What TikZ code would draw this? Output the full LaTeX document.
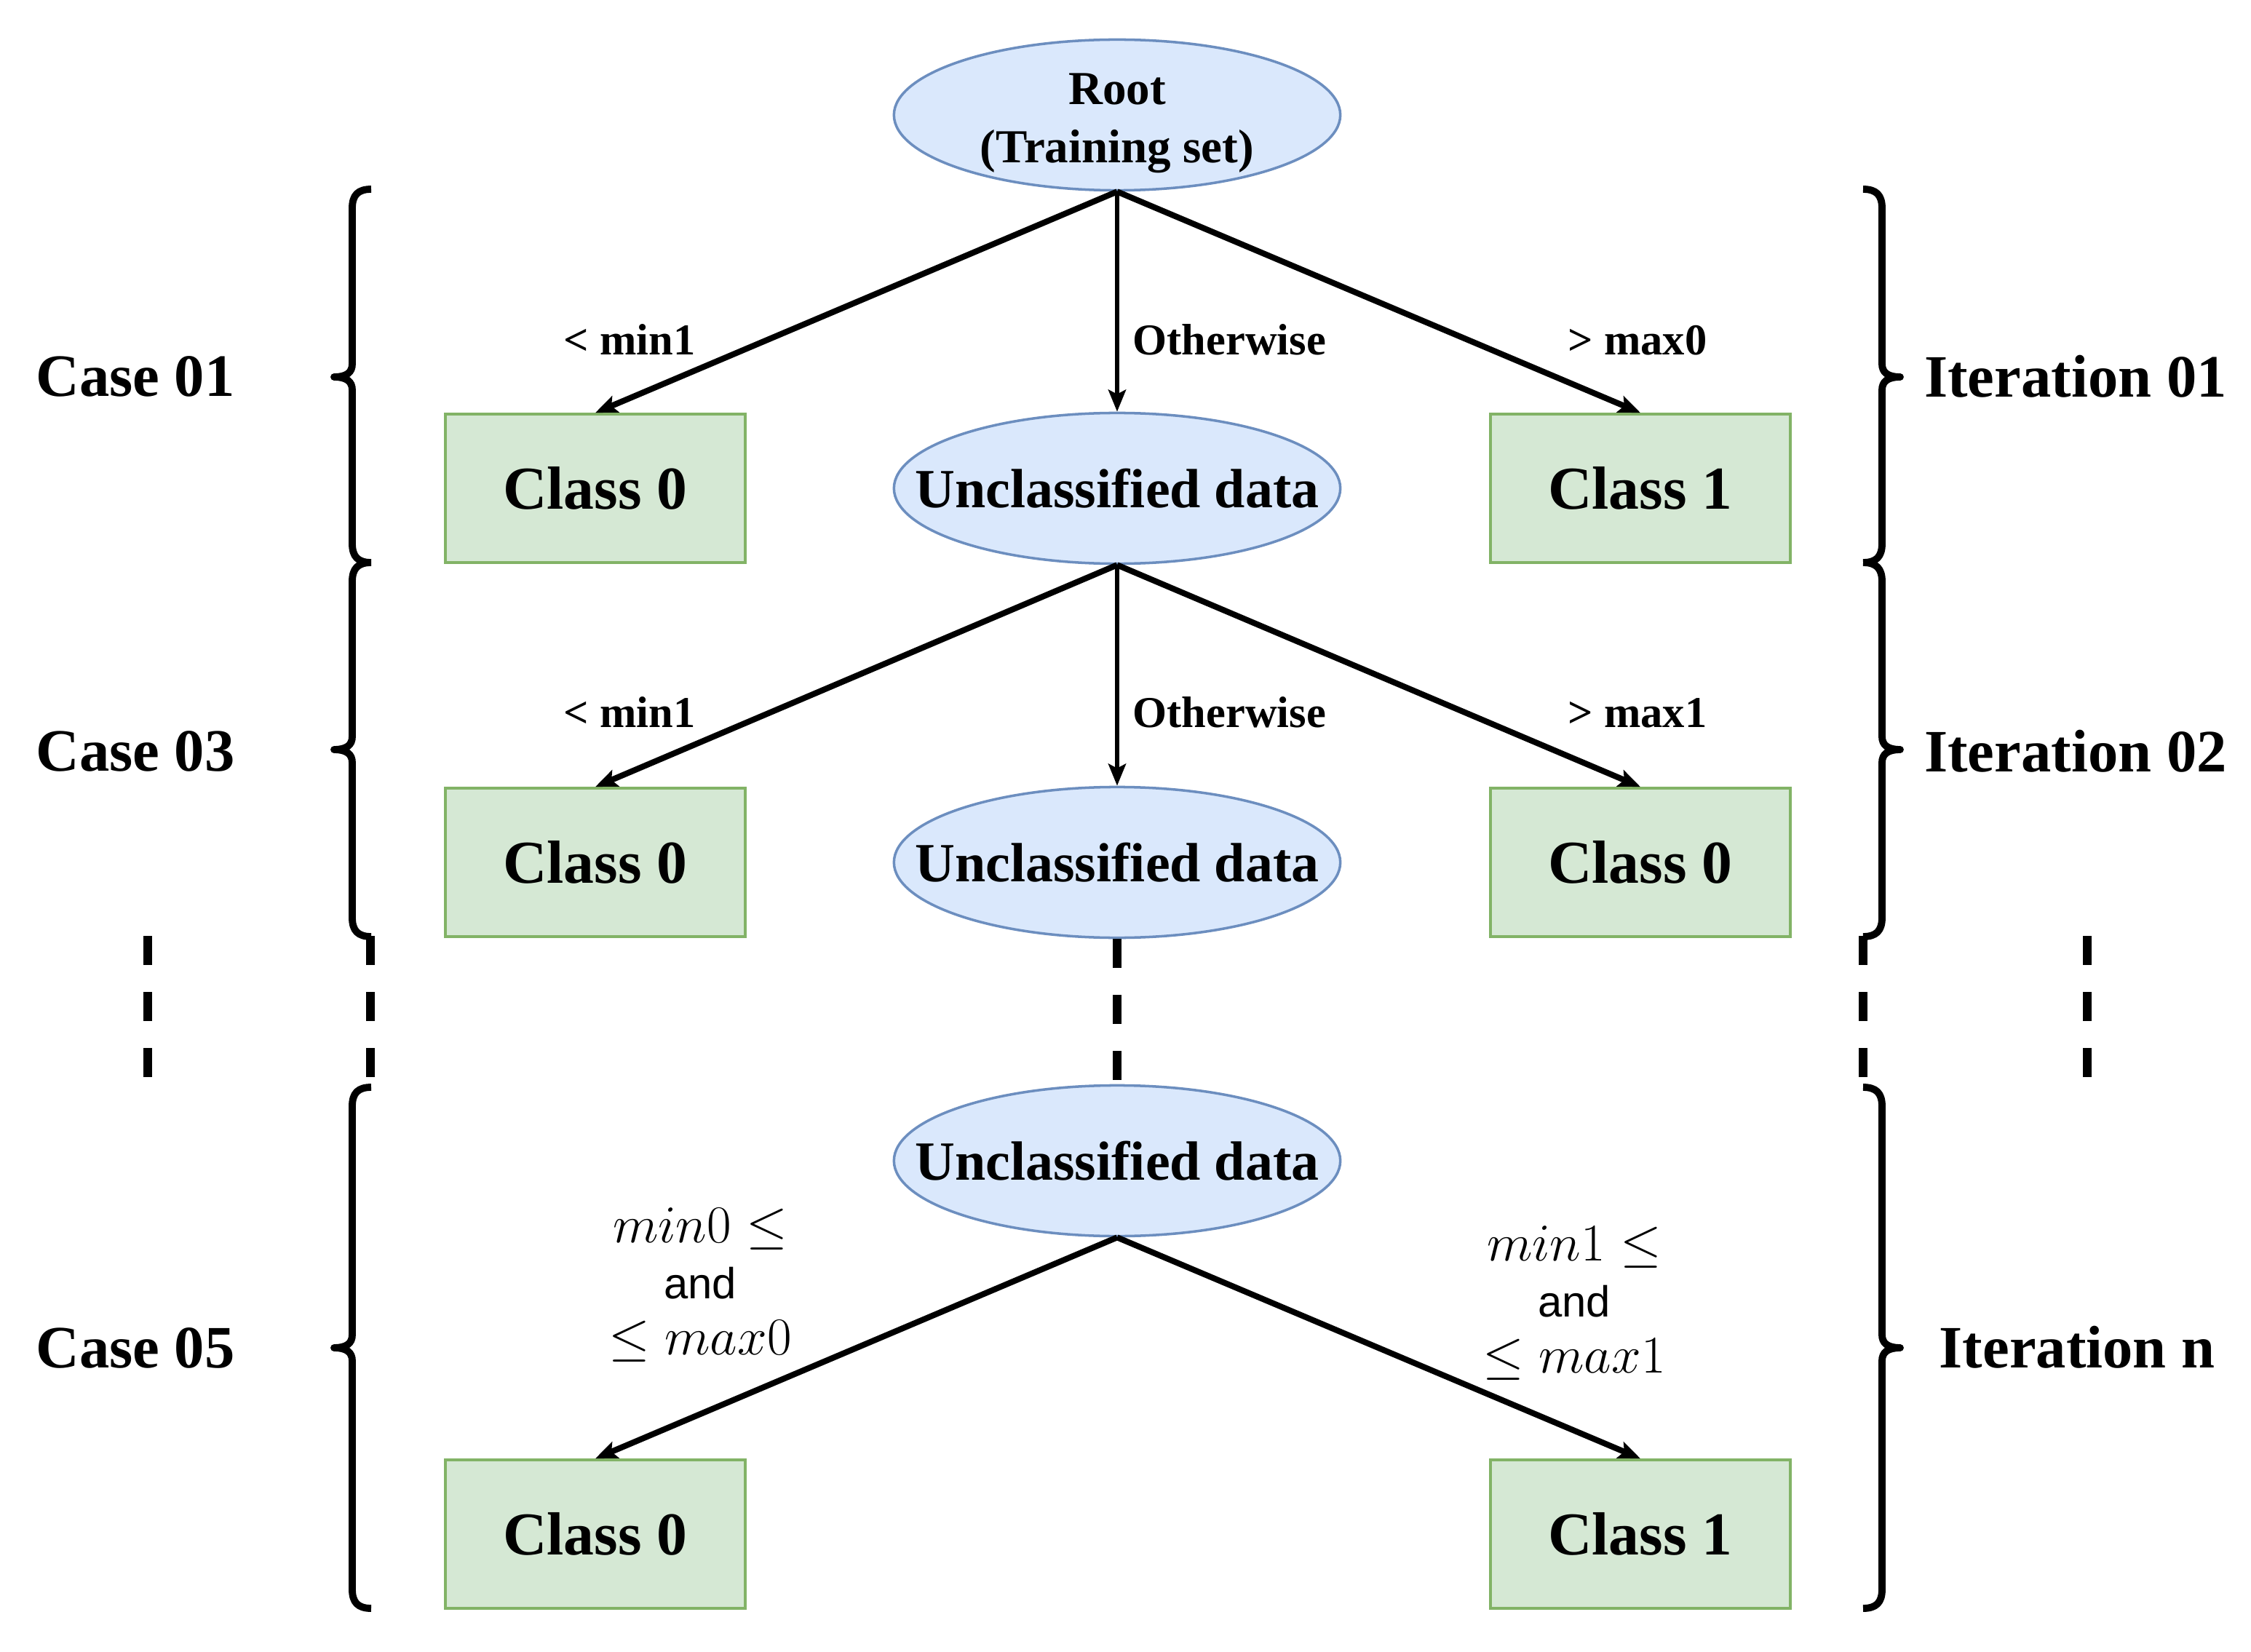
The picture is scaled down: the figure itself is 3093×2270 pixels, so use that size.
\documentclass[tikz,border=0pt]{standalone}
\usepackage[no-math]{fontspec}
\setmainfont{Liberation Serif}
\newfontfamily\andfont{Liberation Sans}
\usetikzlibrary{shapes.geometric,arrows.meta}
\definecolor{boxfill}{HTML}{D5E8D4}
\definecolor{boxline}{HTML}{82B366}
\definecolor{ellfill}{HTML}{DAE8FC}
\definecolor{ellline}{HTML}{6C8EBF}
\newcommand\LeftBraceAt[3]{\draw[bracestyle] (510,#1) .. controls (492,#1) and (484,#1+8) .. (484,#1+26) -- (484,#2-18) .. controls (484,#2-6) and (476,#2) .. (459,#2) .. controls (476,#2) and (484,#2+6) .. (484,#2+18) -- (484,#3-26) .. controls (484,#3-8) and (492,#3) .. (510,#3);}
\newcommand\RightBraceAt[3]{\draw[bracestyle] (2560,#1) .. controls (2578,#1) and (2586,#1+8) .. (2586,#1+26) -- (2586,#2-18) .. controls (2586,#2-6) and (2594,#2) .. (2611,#2) .. controls (2594,#2) and (2586,#2+6) .. (2586,#2+18) -- (2586,#3-26) .. controls (2586,#3-8) and (2578,#3) .. (2560,#3);}
\begin{document}
\begin{tikzpicture}[x=0.01cm,y=-0.01cm,
  box/.style={rectangle, draw=boxline, fill=boxfill, line width=1pt, minimum width=4.12cm, minimum height=2.04cm, inner sep=0pt, font=\fontsize{23.8}{28}\selectfont\bfseries},
  ell/.style={ellipse, draw=ellline, fill=ellfill, line width=1pt, minimum width=6.13cm, minimum height=2.07cm, inner xsep=-0.8cm, inner ysep=-0.3cm, font=\fontsize{21.6}{26}\selectfont\bfseries},
  rootstyle/.style={ell, align=center, font=\fontsize{18.5}{22.8}\selectfont\bfseries},
  arr/.style={-{Stealth[length=0.3cm,width=0.24cm,inset=0.06cm]}, line width=2.3pt},
  varr/.style={arr, line width=1.8pt},
  lbl/.style={anchor=base, inner sep=0pt, font=\fontsize{17.2}{20}\selectfont\bfseries},
  side/.style={anchor=base, inner sep=0pt, font=\fontsize{23.5}{28}\selectfont\bfseries},
  cond/.style={align=center, inner sep=0pt, font=\fontsize{20.4}{21.9}\selectfont},
  bracestyle/.style={line width=2.8pt, line join=round},
  dashcol/.style={line width=3.4pt, dash pattern=on 0.4cm off 0.37cm}
]
\useasboundingbox (0,0) rectangle (3093,2270);

% nodes
\node[rootstyle] (root) at (1535,158) {\rule{0pt}{18.5pt}Root\\(Training set)};
\node[box] (c0a) at (818,671) {Class 0};
\node[ell] (u1) at (1535,671) {Unclassified data};
\node[box] (c1a) at (2254,671) {Class 1};
\node[box] (c0b) at (818,1185) {Class 0};
\node[ell] (u2) at (1535,1185) {Unclassified data};
\node[box] (c0c) at (2254,1185) {Class 0};
\node[ell] (u3) at (1535,1595) {Unclassified data};
\node[box] (c0d) at (818,2108) {Class 0};
\node[box] (c1d) at (2254,2108) {Class 1};

% connectors
\draw[arr] (root.south) -- (c0a.north);
\draw[varr] (root.south) -- (u1.north);
\draw[arr] (root.south) -- (c1a.north);
\draw[arr] (u1.south) -- (c0b.north);
\draw[varr] (u1.south) -- (u2.north);
\draw[arr] (u1.south) -- (c0c.north);
\draw[arr] (u3.south) -- (c0d.north);
\draw[arr] (u3.south) -- (c1d.north);

% edge labels
\node[lbl] (l1a) at (865,488) {< min1};
\node[lbl, anchor=base west] (l1b) at (1556,488) {Otherwise};
\node[lbl] (l1c) at (2250,488) {> max0};
\node[lbl] (l2a) at (865,999) {< min1};
\node[lbl, anchor=base west] (l2b) at (1556,999) {Otherwise};
\node[lbl] (l2c) at (2250,999) {> max1};
\node[cond] (k0) at (962,1766) {$min0\leq$\\{\andfont\fontsize{17}{21.9}\selectfont and}\\$\leq max0$};
\node[cond] (k1) at (2163,1791) {$min1\leq$\\{\andfont\fontsize{17}{21.9}\selectfont and}\\$\leq max1$};

% side labels
\node[side] (case1) at (186,545) {Case 01};
\node[side] (case3) at (186,1059) {Case 03};
\node[side] (case5) at (186,1879) {Case 05};
\node[side] (it1) at (2852,546) {Iteration 01};
\node[side] (it2) at (2852,1060) {Iteration 02};
\node[side] (itn) at (2854,1879) {Iteration n};

% braces
\LeftBraceAt{260}{518}{773}
\LeftBraceAt{773}{1030}{1287}
\LeftBraceAt{1494}{1852}{2210}
\RightBraceAt{260}{518}{773}
\RightBraceAt{773}{1030}{1287}
\RightBraceAt{1494}{1852}{2210}

% dashed continuation
\coordinate (d1t) at (203,1286); \coordinate (d1b) at (203,1480);
\coordinate (d2t) at (509,1286); \coordinate (d2b) at (509,1480);
\coordinate (d4t) at (2560,1286); \coordinate (d4b) at (2560,1480);
\coordinate (d5t) at (2868,1286); \coordinate (d5b) at (2868,1480);
\draw[dashcol] (d1t) -- (d1b);
\draw[dashcol] (d2t) -- (d2b);
\draw[dashcol] (u2.south) -- (u3.north);
\draw[dashcol] (d4t) -- (d4b);
\draw[dashcol] (d5t) -- (d5b);
\end{tikzpicture}
\end{document}
